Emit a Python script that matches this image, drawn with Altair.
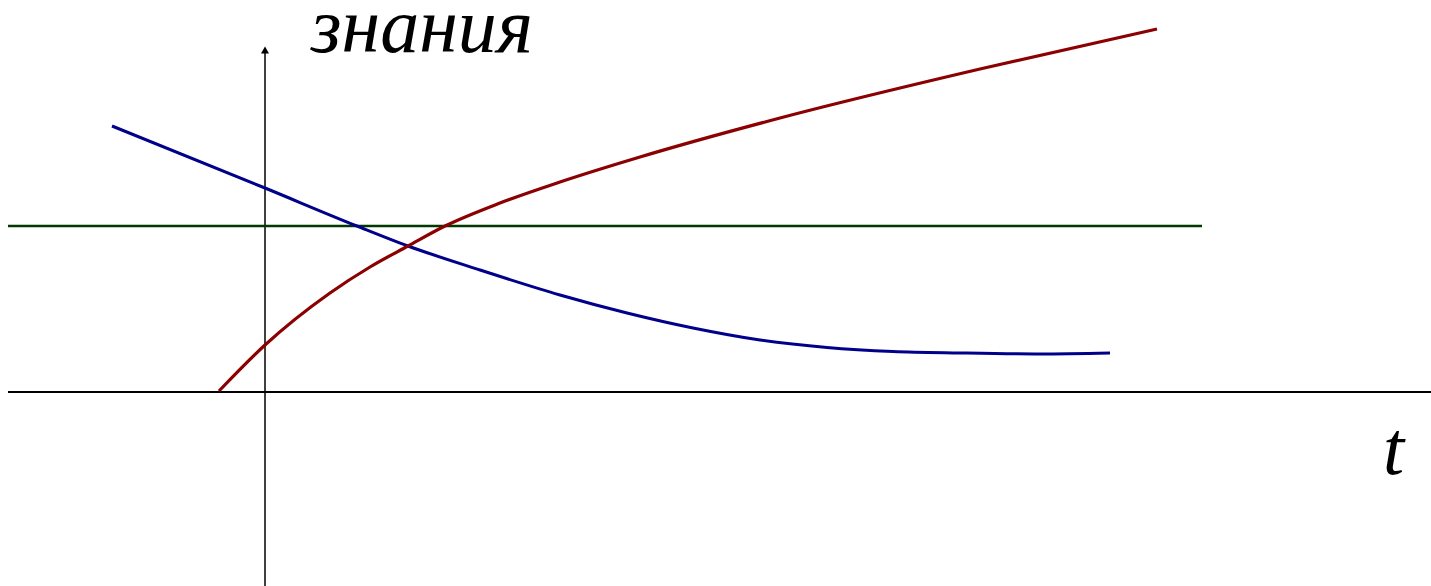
import altair as alt
import pandas as pd

# Red curve: knowledge growing over time
red_t = [-0.46, 0.0, 0.65, 1.05, 1.43, 1.80, 2.35, 2.95, 3.75, 5.15, 7.15, 8.92]
red_v = [0.01, 0.47, 0.99, 1.25, 1.46, 1.66, 1.89, 2.10, 2.35, 2.74, 3.23, 3.63]

# Blue curve: decreasing, levelling off
blue_t = [-1.53, 0.0, 0.92, 1.43, 2.15, 2.95, 3.62, 4.28, 4.95, 5.62, 6.28, 6.95, 7.75, 8.45]
blue_v = [2.66, 2.04, 1.66, 1.46, 1.22, 0.97, 0.79, 0.64, 0.52, 0.445, 0.405, 0.39, 0.38, 0.39]

# Green constant level
green_t = [-2.57, 9.37]
green_v = [1.66, 1.66]

# Coordinate axes
haxis_t = [-2.57, 11.66]
haxis_v = [0.0, 0.0]
vaxis_t = [0.0, 0.0]
vaxis_v = [-1.94, 3.40]

x_dom = [-2.65, 11.66]
y_dom = [-1.94, 3.92]

xs = alt.Scale(domain=x_dom, nice=False, zero=False)
ys = alt.Scale(domain=y_dom, nice=False, zero=False)


def seg(t, v, color, width):
    df = pd.DataFrame({"t": t, "v": v, "i": range(len(t))})
    return alt.Chart(df).mark_line(
        color=color, strokeWidth=width, interpolate="monotone", clip=False
    ).encode(
        x=alt.X("t:Q", scale=xs, axis=None),
        y=alt.Y("v:Q", scale=ys, axis=None),
        order="i:O",
    )


haxis = seg(haxis_t, haxis_v, "#000000", 2)
vaxis = seg(vaxis_t, vaxis_v, "#000000", 1.5)
green = seg(green_t, green_v, "#003a00", 2.5)
blue = seg(blue_t, blue_v, "#00008B", 3)
red = seg(red_t, red_v, "#8B0000", 3.2)

arrow = alt.Chart(pd.DataFrame({"t": [0.0], "v": [3.42]})).mark_point(
    shape="triangle-up", filled=True, color="#000000", size=65, opacity=1
).encode(x=alt.X("t:Q", scale=xs, axis=None), y=alt.Y("v:Q", scale=ys, axis=None))

labels = pd.DataFrame({
    "t": [0.46, 11.18],
    "v": [3.40, -0.82],
    "txt": ["знания", "t"],
})

ylabel = alt.Chart(labels.iloc[[0]]).mark_text(
    font="Liberation Serif", fontStyle="italic", fontSize=78,
    align="left", baseline="alphabetic", color="#000000"
).encode(x=alt.X("t:Q", scale=xs, axis=None), y=alt.Y("v:Q", scale=ys, axis=None), text="txt:N")

xlabel = alt.Chart(labels.iloc[[1]]).mark_text(
    font="Liberation Serif", fontStyle="italic", fontSize=76,
    align="left", baseline="alphabetic", color="#000000"
).encode(x=alt.X("t:Q", scale=xs, axis=None), y=alt.Y("v:Q", scale=ys, axis=None), text="txt:N")

chart = alt.layer(haxis, vaxis, arrow, green, blue, red, ylabel, xlabel).properties(
    width=1431, height=586, padding=0, autosize=alt.AutoSizeParams(type="none"),
    background="white",
).configure_view(stroke=None)

chart.save("out.html", embed_options={"renderer": "svg", "actions": False})
